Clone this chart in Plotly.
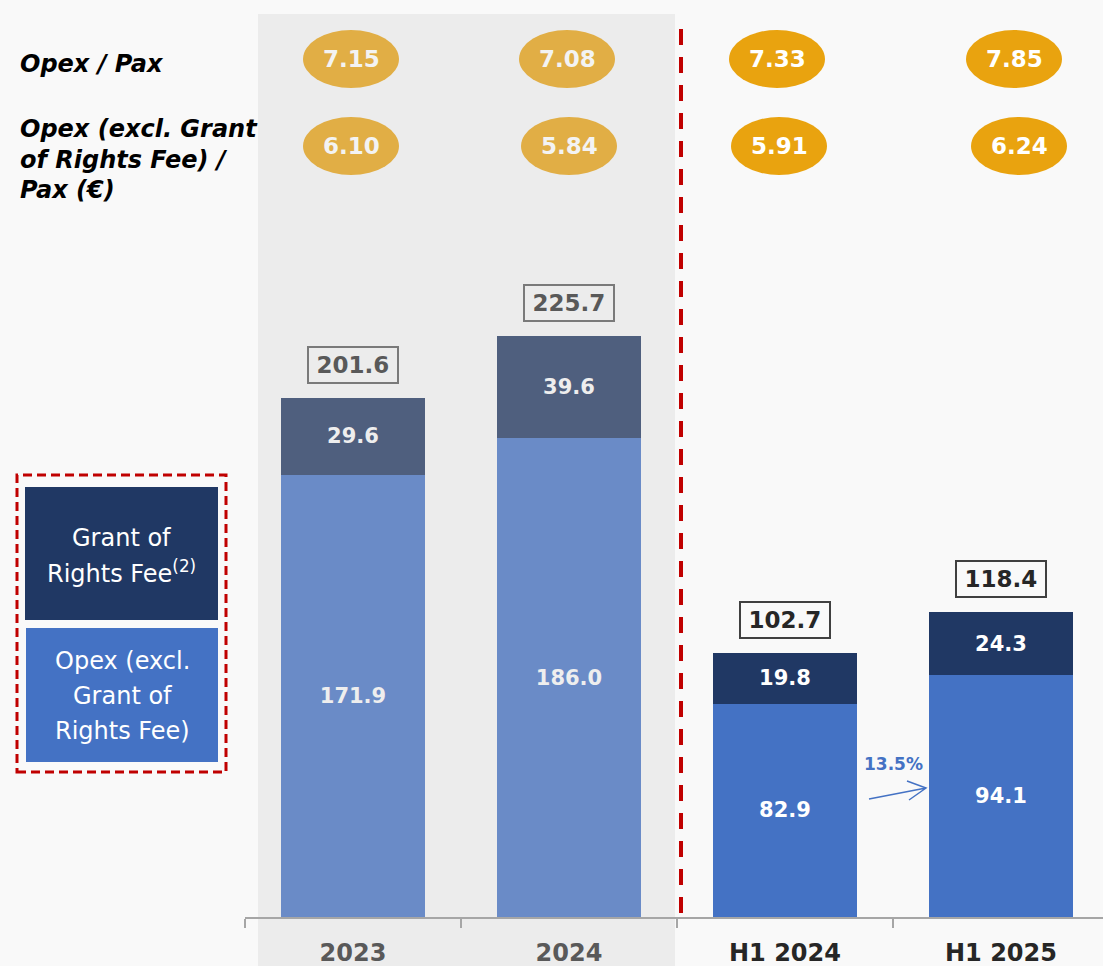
import plotly.graph_objects as go

# ---------------- data ----------------
categories = ["2023", "2024", "H1 2024", "H1 2025"]
opex_excl_grant = [171.9, 186.0, 82.9, 94.1]
grant_of_rights = [29.6, 39.6, 19.8, 24.3]
totals = [201.6, 225.7, 102.7, 118.4]
opex_per_pax = ["7.15", "7.08", "7.33", "7.85"]
opex_excl_per_pax = ["6.10", "5.84", "5.91", "6.24"]
growth_label = "13.5%"
row1_lines = ["Opex / Pax"]
row2_lines = ["Opex (excl. Grant", "of Rights Fee) /", "Pax (€)"]
legend1_lines = ["Grant of", "Rights Fee<sup>(2)</sup>"]
legend2_lines = ["Opex (excl.", "Grant of", "Rights Fee)"]

# ---------------- style ----------------
W, H = 1103, 966
ML, MR, MT, MB = 245, 0, 14, 49
PW, PH = W - ML - MR, H - MT - MB
YMAX = 350.8
FONT = "DejaVu Sans"
BG = "#f9f9f9"
SHADE = "#ececec"
muted = [True, True, False, False]
col_opex = ["#6a8bc7" if m else "#4472c4" for m in muted]
col_grant = ["#4f5f7e" if m else "#203864" for m in muted]
seg_txt = ["#eeeeee" if m else "#ffffff" for m in muted]
tot_txt = ["#595959" if m else "#262626" for m in muted]
tot_border = ["#7a7a7a" if m else "#404040" for m in muted]
oval_col = ["#e1ae45" if m else "#e9a30f" for m in muted]
oval_txt = ["#f3f3f3" if m else "#ffffff" for m in muted]
tick_col = ["#595959" if m else "#262626" for m in muted]
oval_dx_px = [[-2, -2], [-2, 0], [-8, -6], [13, 18]]
RED = "#c00000"
ARROW_BLUE = "#4472c4"


def px2x(px):
    return (px - ML) / PW


def py2y(py):
    return (H - MB - py) / PH


fig = go.Figure()
fig.add_trace(go.Bar(
    x=categories, y=opex_excl_grant, name="Opex (excl. Grant of Rights Fee)",
    marker=dict(color=col_opex, line=dict(width=0)),
    text=[f"{v:.1f}" for v in opex_excl_grant], textposition="inside",
    insidetextanchor="middle", textangle=0,
    textfont=dict(family=FONT, size=21, color=seg_txt, weight="bold"),
    hoverinfo="skip", width=0.667))
fig.add_trace(go.Bar(
    x=categories, y=grant_of_rights, name="Grant of Rights Fee",
    marker=dict(color=col_grant, line=dict(width=0)),
    text=[f"{v:.1f}" for v in grant_of_rights], textposition="inside",
    insidetextanchor="middle", textangle=0,
    textfont=dict(family=FONT, size=21, color=seg_txt, weight="bold"),
    hoverinfo="skip", width=0.667))

ann = []
shapes = []


def pann(px, py, text, font, xanchor="center", align="center"):
    ann.append(dict(x=px2x(px), y=py2y(py), xref="paper", yref="paper",
                    xanchor=xanchor, yanchor="middle", align=align,
                    showarrow=False, text=text, font=font))


# shaded area for full years
shapes.append(dict(type="rect", xref="paper", yref="paper",
                   x0=px2x(258), x1=px2x(675), y0=py2y(H), y1=py2y(14),
                   fillcolor=SHADE, line=dict(width=0), layer="below"))
# red dashed separator
shapes.append(dict(type="line", xref="paper", yref="paper",
                   x0=px2x(681), x1=px2x(681), y0=py2y(29), y1=py2y(914),
                   line=dict(color=RED, width=4, dash="16px,12px")))

# totals
for i, c in enumerate(categories):
    ann.append(dict(x=i, y=totals[i], xref="x", yref="y", xanchor="center", yanchor="bottom",
                    yshift=14, showarrow=False, text=f"<b>{totals[i]:.1f}</b>",
                    font=dict(family=FONT, size=23, color=tot_txt[i]),
                    bordercolor=tot_border[i], borderwidth=2, borderpad=4,
                    width=80))

# ovals (per-pax metrics)
ov_w, ov_h = 96, 58
for r, (vals, cy) in enumerate([(opex_per_pax, 59), (opex_excl_per_pax, 146)]):
    for i, c in enumerate(categories):
        cx = ML + (i + 0.5) * 216 + oval_dx_px[i][r]
        shapes.append(dict(type="circle", xref="paper", yref="paper",
                           x0=px2x(cx - ov_w / 2), x1=px2x(cx + ov_w / 2),
                           y0=py2y(cy + ov_h / 2), y1=py2y(cy - ov_h / 2),
                           fillcolor=oval_col[i], line=dict(width=0)))
        pann(cx, cy, f"<b>{vals[i]}</b>", dict(family=FONT, size=23, color=oval_txt[i]))

# row labels
row_font = dict(family=FONT, size=24, color="#000000")
pann(18, 64, f"<b><i>{row1_lines[0]}</i></b>", row_font, xanchor="left", align="left")
for k, line in enumerate(row2_lines):
    pann(18, 129 + 30.5 * k, f"<b><i>{line}</i></b>", row_font, xanchor="left", align="left")

# legend boxes
shapes.append(dict(type="rect", xref="paper", yref="paper",
                   x0=px2x(17), x1=px2x(226), y0=py2y(772), y1=py2y(475),
                   line=dict(color=RED, width=3, dash="9px,5px")))
shapes.append(dict(type="rect", xref="paper", yref="paper",
                   x0=px2x(25), x1=px2x(218), y0=py2y(620), y1=py2y(487),
                   fillcolor="#203864", line=dict(width=0)))
shapes.append(dict(type="rect", xref="paper", yref="paper",
                   x0=px2x(26), x1=px2x(218), y0=py2y(762), y1=py2y(628),
                   fillcolor="#4472c4", line=dict(width=0)))
leg_font = dict(family=FONT, size=24, color="#ffffff")
for k, line in enumerate(legend1_lines):
    pann(121, 538 + 34 * k, line, leg_font)
for k, line in enumerate(legend2_lines):
    pann(122, 661 + 35 * k, line, leg_font)

# growth arrow (open chevron head)
tail, head = (869, 799), (926, 788)
up, low = (907, 781), (909, 800)
path = (f"M {px2x(tail[0])},{py2y(tail[1])} L {px2x(head[0])},{py2y(head[1])} "
        f"M {px2x(up[0])},{py2y(up[1])} L {px2x(head[0])},{py2y(head[1])} "
        f"L {px2x(low[0])},{py2y(low[1])}")
shapes.append(dict(type="path", xref="paper", yref="paper", path=path,
                   line=dict(color=ARROW_BLUE, width=1.5)))
ann.append(dict(x=2.5, y=(917 - 764) * YMAX / PH, xref="x", yref="y", showarrow=False,
                xanchor="center", yanchor="middle",
                text=f"<b>{growth_label}</b>", font=dict(family=FONT, size=17, color=ARROW_BLUE)))

fig.update_layout(
    width=W, height=H, barmode="stack", bargap=0.333,
    margin=dict(l=ML, r=MR, t=MT, b=MB, pad=0),
    paper_bgcolor=BG, plot_bgcolor="rgba(0,0,0,0)",
    showlegend=False, annotations=ann, shapes=shapes,
    font=dict(family=FONT),
)
fig.update_xaxes(
    type="category", range=[-0.5, 3.5 - 6 / 216], tickson="boundaries",
    ticks="outside", ticklen=9, tickwidth=2, tickcolor="#a6a6a6",
    showline=True, linecolor="#a6a6a6", linewidth=2, showgrid=False,
    tickvals=categories,
    ticktext=[f"<span style='color:{tick_col[i]}'><b>{c}</b></span>" for i, c in enumerate(categories)],
    tickfont=dict(family=FONT, size=24), ticklabelstandoff=13, fixedrange=True,
)
fig.update_yaxes(range=[0, YMAX], visible=False, showgrid=False, zeroline=False, fixedrange=True)

fig.write_html("out.html", post_script="document.body.style.margin='0';",
               config={"displayModeBar": False})
